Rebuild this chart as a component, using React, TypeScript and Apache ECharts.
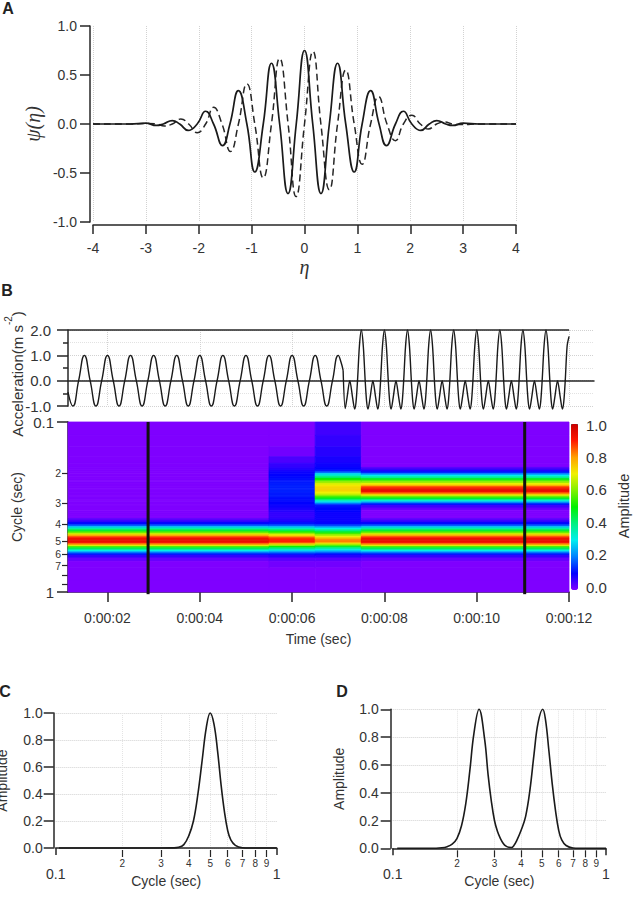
import React, { useEffect, useRef } from "react";
import * as echarts from "echarts";

const FONT = "Liberation Sans";
const INK = "#333333";
const LINE = "#262626";
const GRIDC = "#d2d2d2";

// Panel A
const etaSolid = [-4, -3.3, -3, -2.8, -2.67, -2.5, -2.36, -2.2, -2.03, -1.87, -1.72, -1.55, -1.41, -1.25, -1.09, -0.94, -0.78, -0.625, -0.47, -0.312, -0.156, 0, 0.156, 0.312, 0.47, 0.625, 0.78, 0.94, 1.09, 1.25, 1.41, 1.55, 1.72, 1.87, 2.03, 2.2, 2.36, 2.5, 2.67, 2.8, 3, 3.3, 4];
const psiSolid = [0, 0, 0.008, -0.015, 0, 0.035, 0, -0.065, 0, 0.13, 0, -0.22, 0, 0.34, 0, -0.49, 0, 0.62, 0, -0.71, 0, 0.75, 0, -0.71, 0, 0.62, 0, -0.49, 0, 0.34, 0, -0.22, 0, 0.13, 0, -0.065, 0, 0.035, 0, -0.015, 0.008, 0, 0];
const etaDashed = [-4, -3.3, -2.98, -2.8, -2.65, -2.5, -2.34, -2.19, -2.03, -1.87, -1.72, -1.56, -1.4, -1.25, -1.09, -0.94, -0.78, -0.625, -0.47, -0.31, -0.16, 0, 0.16, 0.31, 0.47, 0.625, 0.78, 0.94, 1.09, 1.25, 1.4, 1.56, 1.72, 1.87, 2.03, 2.19, 2.34, 2.5, 2.65, 2.8, 2.98, 3.3, 4];
const psiDashed = [0, 0, 0.006, 0, -0.02, 0, 0.05, 0, -0.09, 0, 0.17, 0, -0.28, 0, 0.41, 0, -0.55, 0, 0.67, 0, -0.74, 0, 0.74, 0, -0.67, 0, 0.55, 0, -0.41, 0, 0.28, 0, -0.17, 0, 0.09, 0, -0.05, 0, 0.02, 0, -0.006, 0, 0];

// Panel B, acceleration record
const timeTop = [
  1.145, 1.25, 1.375, 1.5, 1.625, 1.75, 1.875, 2, 2.125, 2.25, 2.375, 2.5, 2.625, 2.75, 2.875, 3, 3.125, 3.25, 3.375, 3.5, 3.625, 3.75, 3.875, 4, 4.125, 4.25, 4.375, 4.5, 4.625, 4.75, 4.875, 5, 5.125, 5.25, 5.375, 5.5, 5.625, 5.75, 5.875, 6, 6.125, 6.25, 6.375, 6.5, 6.625, 6.75, 6.875, 7, 7.06, 7.105,
];
const accelTop = [
  -0.45, -1, 0, 1, 0, -1, 0, 1, 0, -1, 0, 1, 0, -1, 0, 1, 0, -1, 0, 1, 0, -1, 0, 1, 0, -1, 0, 1, 0, -1, 0, 1, 0, -1, 0, 1, 0, -1, 0, 1, 0, -1, 0, 1, 0, -1, 0, 1, 0.73, 0.41,
];
const timeTop2 = [
  7.105, 7.15, 7.19, 7.25, 7.31, 7.356, 7.385, 7.417, 7.458,
  7.5, 7.542, 7.583, 7.615, 7.644, 7.69, 7.75, 7.81, 7.856, 7.885, 7.917, 7.958,
  8, 8.042, 8.083, 8.115, 8.144, 8.19, 8.25, 8.31, 8.356, 8.385, 8.417, 8.458,
  8.5, 8.542, 8.583, 8.615, 8.644, 8.69, 8.75, 8.81, 8.856, 8.885, 8.917, 8.958,
  9, 9.042, 9.083, 9.115, 9.144, 9.19, 9.25, 9.31, 9.356, 9.385, 9.417, 9.458,
  9.5, 9.542, 9.583, 9.615, 9.644, 9.69, 9.75, 9.81, 9.856, 9.885, 9.917, 9.958,
  10, 10.042, 10.083, 10.115, 10.144, 10.19, 10.25, 10.31, 10.356, 10.385, 10.417, 10.458,
  10.5, 10.542, 10.583, 10.615, 10.644, 10.69, 10.75, 10.81, 10.856, 10.885, 10.917, 10.958,
  11, 11.042, 11.083, 11.115, 11.144, 11.19, 11.25, 11.31, 11.356, 11.385, 11.417, 11.458,
  11.5, 11.542, 11.583, 11.615, 11.644, 11.69, 11.75, 11.81, 11.856, 11.885, 11.917, 11.958, 12,
];
const accelTop2 = [
  0.41, -1.1, -0.67, 0, -0.67, -1.12, -0.84, 0, 1.37,
  2, 1.37, 0, -0.84, -1.12, -0.67, 0, -0.67, -1.12, -0.84, 0, 1.37,
  2, 1.37, 0, -0.84, -1.12, -0.67, 0, -0.67, -1.12, -0.84, 0, 1.37,
  2, 1.37, 0, -0.84, -1.12, -0.67, 0, -0.67, -1.12, -0.84, 0, 1.37,
  2, 1.37, 0, -0.84, -1.12, -0.67, 0, -0.67, -1.12, -0.84, 0, 1.37,
  2, 1.37, 0, -0.84, -1.12, -0.67, 0, -0.67, -1.12, -0.84, 0, 1.37,
  2, 1.37, 0, -0.84, -1.12, -0.67, 0, -0.67, -1.12, -0.84, 0, 1.37,
  2, 1.37, 0, -0.84, -1.12, -0.67, 0, -0.67, -1.12, -0.84, 0, 1.37,
  2, 1.37, 0, -0.84, -1.12, -0.67, 0, -0.67, -1.12, -0.84, 0, 1.37,
  2, 1.37, 0, -0.84, -1.12, -0.67, 0, -0.67, -1.12, -0.84, 0, 1.37, 1.75,
];
const topLineTime = [1.145, 12];
const topLineValue = [2, 2];

// Panel B, scalogram
const timeTicks = [2, 4, 6, 8, 10, 12];
const timeLabels = ["0:00:02", "0:00:04", "0:00:06", "0:00:08", "0:00:10", "0:00:12"];
const marker1 = [2.88, 2.88];
const marker2 = [11.04, 11.04];
const markerCycle = [0.1, 1.03];
const colEdges = [1.145, 5.5, 6.5, 7.5, 12];
const rowEdges = [
  0.1, 0.12, 0.14, 0.16, 0.175, 0.185, 0.19, 0.195, 0.2, 0.205, 0.21, 0.215, 0.22, 0.225, 0.23, 0.235, 0.24, 0.245, 0.25, 0.255, 0.26, 0.265, 0.27, 0.275, 0.28, 0.285, 0.29, 0.295, 0.3, 0.305, 0.31,
  0.32, 0.33, 0.34, 0.35, 0.36, 0.37, 0.38, 0.39, 0.4, 0.41, 0.42, 0.43, 0.44, 0.45, 0.46, 0.47, 0.48, 0.49, 0.5, 0.51, 0.52, 0.53, 0.54, 0.55, 0.56, 0.57, 0.58, 0.59, 0.6, 0.61, 0.63, 0.66, 0.72, 0.85, 1,
];
const ampCol1 = [
  0, 0, 0, 0, 0, 0, 0, 0, 0, 0, 0, 0, 0, 0, 0, 0, 0, 0, 0, 0, 0, 0, 0, 0, 0, 0, 0, 0, 0, 0,
  0, 0, 0, 0, 0, 0, 0.03, 0.06, 0.1, 0.15, 0.26, 0.36, 0.45, 0.55, 0.66, 0.76, 0.86, 0.92, 0.94, 0.94, 0.92, 0.82, 0.68, 0.55, 0.45, 0.37, 0.3, 0.22, 0.15, 0.11, 0.06, 0.02, 0, 0, 0,
];
const ampCol2 = [
  0, 0, 0.01, 0.04, 0.06, 0.07, 0.08, 0.09, 0.095, 0.1, 0.105, 0.11, 0.115, 0.12, 0.12, 0.125, 0.125, 0.125, 0.125, 0.125, 0.12, 0.12, 0.12, 0.115, 0.11, 0.11, 0.105, 0.1, 0.1, 0.095,
  0.09, 0.08, 0.07, 0.06, 0.06, 0.06, 0.07, 0.08, 0.11, 0.15, 0.25, 0.34, 0.43, 0.52, 0.62, 0.71, 0.81, 0.88, 0.9, 0.9, 0.86, 0.74, 0.61, 0.5, 0.41, 0.34, 0.28, 0.21, 0.15, 0.11, 0.07, 0.03, 0.01, 0, 0,
];
const ampCol3 = [
  0.05, 0.06, 0.07, 0.08, 0.09, 0.1, 0.11, 0.16, 0.28, 0.34, 0.42, 0.5, 0.57, 0.63, 0.68, 0.71, 0.73, 0.74, 0.74, 0.72, 0.7, 0.66, 0.6, 0.54, 0.47, 0.41, 0.34, 0.28, 0.2, 0.14,
  0.11, 0.1, 0.1, 0.09, 0.09, 0.09, 0.09, 0.09, 0.1, 0.14, 0.22, 0.3, 0.38, 0.46, 0.55, 0.63, 0.7, 0.77, 0.82, 0.83, 0.78, 0.67, 0.55, 0.46, 0.38, 0.31, 0.26, 0.2, 0.14, 0.1, 0.07, 0.03, 0.01, 0, 0,
];
const ampCol4 = [
  0, 0, 0, 0, 0, 0.04, 0.07, 0.11, 0.2, 0.3, 0.38, 0.47, 0.56, 0.63, 0.7, 0.78, 0.87, 0.92, 0.94, 0.93, 0.86, 0.75, 0.66, 0.56, 0.47, 0.39, 0.32, 0.24, 0.15, 0.11,
  0.05, 0.02, 0, 0, 0, 0, 0.03, 0.06, 0.1, 0.15, 0.26, 0.36, 0.45, 0.55, 0.66, 0.76, 0.86, 0.92, 0.94, 0.94, 0.92, 0.82, 0.68, 0.55, 0.45, 0.37, 0.3, 0.22, 0.15, 0.11, 0.06, 0.02, 0, 0, 0,
];
const ampColumns = [ampCol1, ampCol2, ampCol3, ampCol4];
const scaleColors = ["#7f00ff", "#0000ff", "#0080ff", "#00eeee", "#00f080", "#00f000", "#80f000", "#f0f000", "#ffa000", "#ff1800", "#c80000"];

// Panels C and D
const cycleMajor = [0.1, 1];
const cycleMinor = [0.2, 0.3, 0.4, 0.5, 0.6, 0.7, 0.8, 0.9];
const cycleLabelled = [0.2, 0.3, 0.4, 0.5, 0.6, 0.7];
const cycleC = [0.1035, 0.2, 0.3, 0.34, 0.36, 0.38, 0.4, 0.42, 0.44, 0.46, 0.48, 0.5, 0.52, 0.54, 0.56, 0.58, 0.6, 0.62, 0.65, 0.7, 0.75, 1];
const ampC = [0, 0, 0, 0.001, 0.005, 0.025, 0.09, 0.2, 0.4, 0.65, 0.89, 1, 0.92, 0.72, 0.47, 0.27, 0.13, 0.06, 0.02, 0.002, 0, 0];
const cycleD = [0.105, 0.15, 0.17, 0.18, 0.19, 0.2, 0.21, 0.22, 0.23, 0.24, 0.254, 0.27, 0.28, 0.29, 0.3, 0.31, 0.32, 0.33, 0.34, 0.35, 0.36, 0.37, 0.38, 0.4, 0.42, 0.44, 0.46, 0.48, 0.505, 0.52, 0.54, 0.56, 0.58, 0.6, 0.62, 0.65, 0.7, 0.75, 1];
const ampD = [0, 0, 0.004, 0.012, 0.03, 0.07, 0.16, 0.32, 0.56, 0.82, 1, 0.78, 0.53, 0.34, 0.2, 0.12, 0.07, 0.035, 0.015, 0.007, 0.006, 0.02, 0.05, 0.13, 0.23, 0.42, 0.68, 0.9, 1, 0.93, 0.7, 0.46, 0.27, 0.13, 0.06, 0.02, 0.002, 0, 0];

const zip = (a: number[], b: number[]) => a.map((v, i) => [v, b[i]]);
const darkLine = { show: true, lineStyle: { color: LINE, width: 1.5 } };
const dots = { show: true, lineStyle: { color: GRIDC, type: "dotted", width: 1 } };
const label = (extra: any) => ({ color: INK, fontFamily: FONT, fontSize: 14, ...extra });
const nameStyle = (size = 14) => ({ color: INK, fontFamily: FONT, fontSize: size });
const curve = { type: "line", showSymbol: false, symbol: "none", silent: true, clip: false };

const heatCells: number[][] = [];
ampColumns.forEach((col, c) => {
  col.forEach((amp, r) => {
    heatCells.push([colEdges[c], colEdges[c + 1], rowEdges[r], rowEdges[r + 1], amp]);
  });
});

const renderHeatCell = (_p: any, api: any) => {
  const a = api.coord([api.value(0), api.value(2)]);
  const b = api.coord([api.value(1), api.value(3)]);
  const color = api.visual("color");
  return {
    type: "rect",
    shape: { x: a[0], y: a[1], width: b[0] - a[0], height: b[1] - a[1] },
    style: { fill: color, stroke: color, lineWidth: 0.8 },
  };
};

const logAxisBase = {
  type: "log",
  logBase: 10,
  min: 0.1,
  max: 1,
  axisLine: darkLine,
};

const cycleXAxes = (gridIndex: number, withName: boolean) => [
  {
    ...logAxisBase,
    gridIndex,
    position: "bottom",
    offset: 2,
    name: withName ? "Cycle (sec)" : "",
    nameLocation: "middle",
    nameGap: 24,
    nameMoveOverlap: false,
    nameTextStyle: nameStyle(14),
    axisTick: { show: true, length: 7, customValues: cycleMajor, lineStyle: { color: LINE, width: 1.5 } },
    axisLabel: label({ fontSize: 14, margin: 17, customValues: cycleMajor, formatter: (v: number) => (v < 0.5 ? "0.1" : "1") }),
    splitLine: { show: false },
  },
  {
    ...logAxisBase,
    gridIndex,
    position: "bottom",
    offset: 2,
    axisLine: { show: false },
    axisTick: { show: true, length: 7, customValues: cycleMinor, lineStyle: { color: LINE, width: 1.2 } },
    axisLabel: label({ fontSize: 10, margin: 8, customValues: cycleMinor, formatter: (v: number) => String(Math.round(v * 10)) }),
    splitLine: { ...dots, lineStyle: { color: "#e4e4e4", type: "dotted", width: 1 } },
  },
];

const ampYAxis = (gridIndex: number, margin: number, nameGap: number) => ({
  type: "value",
  gridIndex,
  min: 0,
  max: 1,
  interval: 0.2,
  offset: 2,
  name: "Amplitude",
  nameLocation: "middle",
  nameGap,
  nameMoveOverlap: false,
  nameTextStyle: nameStyle(14),
  axisLine: { ...darkLine, onZero: false },
  axisTick: { show: true, length: 10, lineStyle: { color: LINE, width: 1.5 } },
  axisLabel: label({ fontSize: 14, margin, formatter: (v: number) => v.toFixed(1) }),
  splitLine: dots,
});

const option: any = {
  animation: false,
  backgroundColor: "#ffffff",
  textStyle: { fontFamily: FONT },
  grid: [
    { left: 93, top: 26, width: 423, height: 196, outerBoundsMode: "none" },
    { left: 68, top: 330, width: 526, height: 76, outerBoundsMode: "none" },
    { left: 68, top: 422, width: 501, height: 170, outerBoundsMode: "none" },
    { left: 571, top: 425, width: 7, height: 162, outerBoundsMode: "none" },
    { left: 55.7, top: 713, width: 221, height: 135, outerBoundsMode: "none" },
    { left: 392.7, top: 709.3, width: 213.3, height: 139, outerBoundsMode: "none" },
  ],
  xAxis: [
    {
      type: "value",
      gridIndex: 0,
      min: -4,
      max: 4,
      interval: 1,
      offset: 3,
      name: "η",
      nameLocation: "middle",
      nameGap: 32,
      nameMoveOverlap: false,
      nameTextStyle: { color: INK, fontFamily: "Liberation Serif", fontStyle: "italic", fontSize: 20 },
      axisLine: { ...darkLine, onZero: false },
      axisTick: { show: true, length: 9, lineStyle: { color: LINE, width: 1.5 } },
      axisLabel: label({ margin: 16 }),
      splitLine: dots,
    },
    {
      type: "value",
      gridIndex: 1,
      min: 1.145,
      max: 12.54,
      axisLine: { show: true, onZero: true, lineStyle: { color: LINE, width: 1.5 } },
      axisTick: { show: false, customValues: timeTicks },
      axisLabel: { show: false, customValues: timeTicks },
      splitLine: dots,
    },
    {
      type: "value",
      gridIndex: 2,
      min: 1.145,
      max: 12,
      name: "Time (sec)",
      nameLocation: "middle",
      nameGap: 40,
      nameMoveOverlap: false,
      nameTextStyle: nameStyle(14),
      axisLine: { ...darkLine, onZero: false },
      axisTick: { show: true, length: 10, customValues: timeTicks, lineStyle: { color: LINE, width: 1.5 } },
      axisLabel: label({ margin: 19, customValues: timeTicks, formatter: (v: number) => timeLabels[timeTicks.indexOf(v)] ?? "" }),
      splitLine: { show: false },
    },
    { type: "value", gridIndex: 3, min: 0, max: 1, show: false },
    ...cycleXAxes(4, true),
    ...cycleXAxes(5, true),
  ],
  yAxis: [
    {
      type: "value",
      gridIndex: 0,
      min: -1,
      max: 1,
      interval: 0.5,
      offset: 3,
      name: "ψ(η)",
      nameLocation: "middle",
      nameGap: 47,
      nameMoveOverlap: false,
      nameTextStyle: { color: INK, fontFamily: "Liberation Serif", fontStyle: "italic", fontSize: 20 },
      axisLine: { ...darkLine, onZero: false },
      axisTick: { show: true, length: 10, lineStyle: { color: LINE, width: 1.5 } },
      axisLabel: label({ margin: 13, formatter: (v: number) => v.toFixed(1) }),
      splitLine: { show: false },
    },
    {
      type: "value",
      gridIndex: 1,
      min: -1,
      max: 2,
      interval: 1,
      axisLine: { ...darkLine, onZero: false },
      axisTick: { show: true, length: 11, lineStyle: { color: LINE, width: 1.5 } },
      minorTick: { show: true, splitNumber: 2, length: 5, lineStyle: { color: LINE, width: 1.5 } },
      axisLabel: label({ fontSize: 15, margin: 17, formatter: (v: number) => v.toFixed(1) }),
      splitLine: dots,
      minorSplitLine: { show: true, lineStyle: { color: "#e2e2e2", type: "dotted", width: 1 } },
    },
    {
      ...logAxisBase,
      gridIndex: 2,
      inverse: true,
      axisTick: { show: true, length: 11, customValues: cycleMajor, lineStyle: { color: LINE, width: 1.5 } },
      axisLabel: label({ fontSize: 15, margin: 14, customValues: cycleMajor, formatter: (v: number) => (v < 0.5 ? "0.1" : "1") }),
      name: "Cycle (sec)",
      nameLocation: "middle",
      nameGap: 44,
      nameMoveOverlap: false,
      nameTextStyle: nameStyle(14),
      splitLine: { show: false },
    },
    {
      ...logAxisBase,
      gridIndex: 2,
      inverse: true,
      position: "left",
      axisLine: { show: false },
      axisTick: { show: true, length: 6, customValues: cycleMinor, lineStyle: { color: LINE, width: 1.2 } },
      axisLabel: label({ fontSize: 10.5, margin: 7, customValues: cycleLabelled, formatter: (v: number) => String(Math.round(v * 10)) }),
      splitLine: { show: false },
    },
    {
      type: "value",
      gridIndex: 3,
      position: "right",
      min: 0,
      max: 1,
      interval: 0.2,
      name: "Amplitude",
      nameLocation: "middle",
      nameGap: 38,
      nameMoveOverlap: false,
      nameTextStyle: nameStyle(14.5),
      axisLine: { show: false },
      axisTick: { show: true, length: 7, lineStyle: { color: LINE, width: 1.5 } },
      axisLabel: label({ fontSize: 15, margin: 8, formatter: (v: number) => v.toFixed(1) }),
      splitLine: { show: false },
    },
    ampYAxis(4, 11, 45),
    ampYAxis(5, 12, 45),
  ],
  visualMap: {
    type: "continuous",
    seriesIndex: 5,
    dimension: 4,
    min: 0,
    max: 1,
    left: 571,
    top: 424,
    padding: 0,
    itemWidth: 7,
    itemHeight: 166,
    calculable: false,
    realtime: false,
    hoverLink: false,
    inRange: { color: scaleColors },
    outOfRange: { color: scaleColors },
  },
  graphic: [
    { type: "text", x: 8, y: 8, style: { text: "A", font: `bold 16px '${FONT}'`, fill: "#222", align: "center", verticalAlign: "middle" } },
    { type: "text", x: 7, y: 290, style: { text: "B", font: `bold 16px '${FONT}'`, fill: "#222", align: "center", verticalAlign: "middle" } },
    { type: "text", x: 5, y: 691, style: { text: "C", font: `bold 16px '${FONT}'`, fill: "#222", align: "center", verticalAlign: "middle" } },
    { type: "text", x: 342, y: 691, style: { text: "D", font: `bold 16px '${FONT}'`, fill: "#222", align: "center", verticalAlign: "middle" } },
    {
      type: "text",
      x: 14,
      y: 374,
      rotation: Math.PI / 2,
      style: {
        text: "{n|Acceleration(m s}{s|-2}{n|)}",
        align: "center",
        verticalAlign: "middle",
        rich: {
          n: { fontFamily: FONT, fontSize: 15, fill: INK, color: INK, lineHeight: 22, verticalAlign: "bottom" },
          s: { fontFamily: FONT, fontSize: 10, fill: INK, color: INK, lineHeight: 22, verticalAlign: "top" },
        },
      },
    },
  ],
  series: [
    { ...curve, xAxisIndex: 0, yAxisIndex: 0, data: zip(etaDashed, psiDashed), smooth: 0.5, lineStyle: { color: LINE, width: 1.5, type: [7, 4] } },
    { ...curve, xAxisIndex: 0, yAxisIndex: 0, data: zip(etaSolid, psiSolid), smooth: 0.5, lineStyle: { color: "#1a1a1a", width: 1.7 } },
    { ...curve, xAxisIndex: 1, yAxisIndex: 1, data: zip(timeTop, accelTop), smooth: 0.5, lineStyle: { color: "#1a1a1a", width: 1.4 } },
    { ...curve, xAxisIndex: 1, yAxisIndex: 1, data: zip(timeTop2, accelTop2), smooth: 0.3, lineStyle: { color: "#1a1a1a", width: 1.4 } },
    { ...curve, xAxisIndex: 1, yAxisIndex: 1, data: zip(topLineTime, topLineValue), lineStyle: { color: LINE, width: 1.5 } },
    {
      type: "custom",
      xAxisIndex: 2,
      yAxisIndex: 2,
      data: heatCells,
      renderItem: renderHeatCell,
      encode: { x: [0, 1], y: [2, 3] },
      silent: true,
      z: 1,
    },
    { ...curve, xAxisIndex: 2, yAxisIndex: 2, data: zip(marker1, markerCycle), lineStyle: { color: "#111", width: 3 }, z: 5 },
    { ...curve, xAxisIndex: 2, yAxisIndex: 2, data: zip(marker2, markerCycle), lineStyle: { color: "#111", width: 3 }, z: 5 },
    { ...curve, xAxisIndex: 4, yAxisIndex: 5, data: zip(cycleC, ampC), smooth: 0.4, lineStyle: { color: "#1a1a1a", width: 1.6 } },
    { ...curve, xAxisIndex: 6, yAxisIndex: 6, data: zip(cycleD, ampD), smooth: 0.4, lineStyle: { color: "#1a1a1a", width: 1.6 } },
  ],
};

export default function App() {
  const ref = useRef<HTMLDivElement>(null);
  useEffect(() => {
    const chart = echarts.init(ref.current!, undefined, { renderer: "svg" });
    chart.setOption(option);
    return () => chart.dispose();
  }, []);
  return <div ref={ref} style={{ position: "fixed", left: 0, top: 0, width: 636, height: 897 }} />;
}
